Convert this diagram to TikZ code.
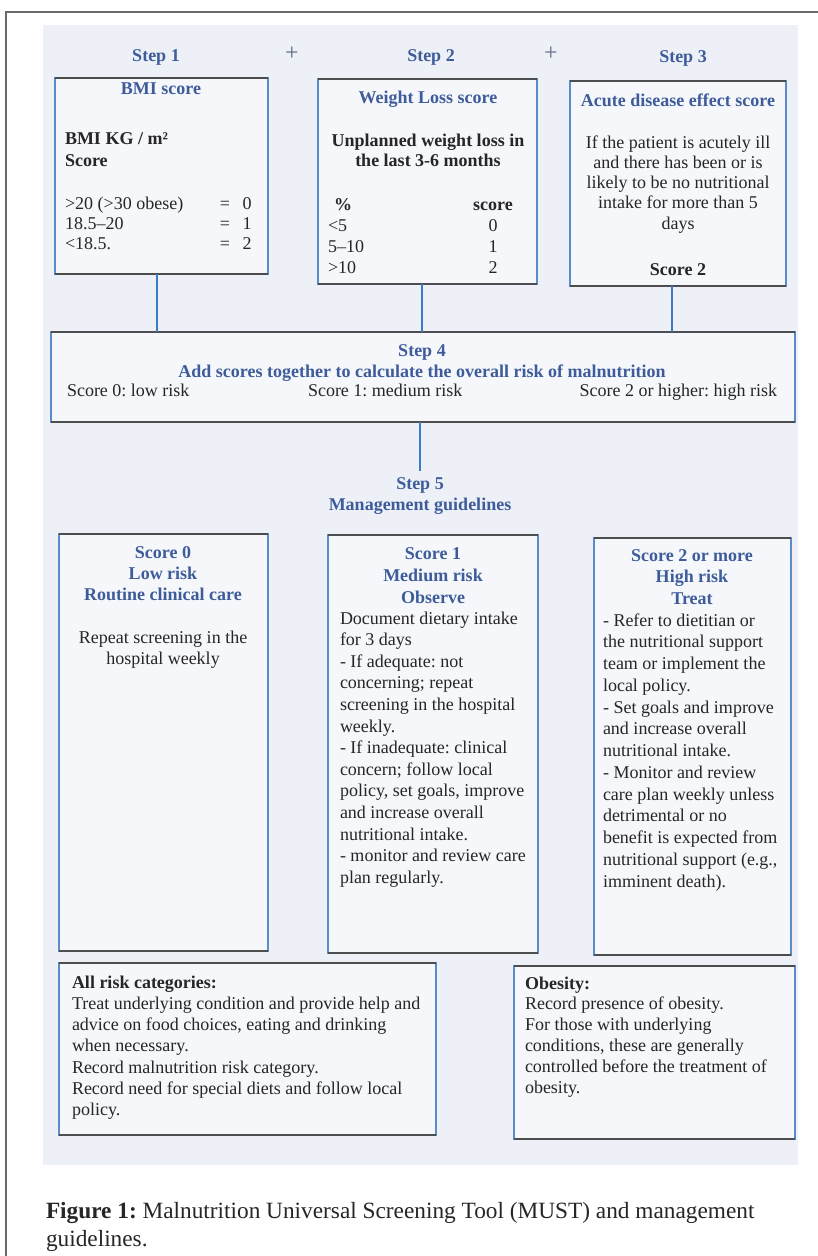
\documentclass[tikz,border=0pt]{standalone}
\usepackage{fontspec}
\setmainfont{Liberation Serif}
\frenchspacing
\definecolor{panelbg}{HTML}{EDF1F7}
\definecolor{hblue}{HTML}{3E5C9A}
\definecolor{lineblue}{HTML}{3C7BC8}
\definecolor{sideblue}{HTML}{5B8CC8}
\definecolor{edgegray}{HTML}{4D4D4D}
\definecolor{txt}{HTML}{262626}
\definecolor{framegray}{HTML}{6A6A6A}
\definecolor{plusgray}{HTML}{5F6C84}
\newcommand{\fl}{\rule{0pt}{13pt}}
\begin{document}
\begin{tikzpicture}[x=1pt,y=-1pt,
  every node/.style={inner sep=0pt,outer sep=0pt},
  box/.style={draw=sideblue,line width=1.1pt,fill=panelbg!55!white,anchor=north west},
  topbot/.style={draw=edgegray,line width=1.2pt},
  conn/.style={draw=lineblue,line width=1.6pt},
  ttl/.style={font=\fontsize{18}{21}\selectfont\bfseries,text=hblue,align=center},
  bd/.style={font=\fontsize{18}{21.5}\selectfont,text=txt},
  bdb/.style={font=\fontsize{18}{22}\selectfont\bfseries,text=txt},
  plussign/.style={font=\fontsize{24}{24}\selectfont,text=plusgray,anchor=center}
]
\useasboundingbox (0,0) rectangle (818,1256);
\fill[white] (0,0) rectangle (818,1256);
\draw[framegray,line width=1.2pt] (6,1256) -- (6,12) -- (818,12);
\fill[panelbg] (43,25) rectangle (798,1165);

% step headers
\node[ttl,anchor=base] (h1) at (156,61) {Step 1};
\node[plussign] (p1) at (292,54) {+};
\node[ttl,anchor=base] (h2) at (431,61) {Step 2};
\node[plussign] (p2) at (551,54) {+};
\node[ttl,anchor=base] (h3) at (683,62) {Step 3};

% boxes
\node[box,minimum width=213pt,minimum height=196pt] (b1) at (55,78) {};
\node[box,minimum width=219pt,minimum height=205pt] (b2) at (318,79) {};
\node[box,minimum width=216pt,minimum height=205pt] (b3) at (570,81) {};
\node[box,minimum width=744pt,minimum height=90pt] (b4) at (51,332) {};
\node[box,minimum width=209pt,minimum height=417pt] (s0) at (59,534) {};
\node[box,minimum width=210pt,minimum height=418pt] (s1) at (328,535) {};
\node[box,minimum width=197pt,minimum height=417pt] (s2) at (594,538) {};
\node[box,minimum width=377pt,minimum height=172pt] (all) at (59,963) {};
\node[box,minimum width=281pt,minimum height=173pt] (ob) at (514,966) {};
\foreach \b in {b1,b2,b3,b4,s0,s1,s2,all,ob}
  \draw[topbot] (\b.north west) -- (\b.north east) (\b.south west) -- (\b.south east);

% box 1
\node[ttl,anchor=base] (t1) at (161,94) {BMI score};
\node[bdb,anchor=north west,align=left] (bmiunit) at (65,131) {\fl BMI KG / m²\\Score};
\node[bd,font=\fontsize{18}{20}\selectfont,anchor=north west,align=left] (bmirange) at (65,196) {\fl >20 (>30 obese)\\18.5–20\\<18.5.};
\node[bd,font=\fontsize{18}{20}\selectfont,anchor=north,align=center] (bmieq) at (225,196) {\fl =\\=\\=};
\node[bd,font=\fontsize{18}{20}\selectfont,anchor=north,align=center] (bmisc) at (247,196) {\fl 0\\1\\2};

% box 2
\node[ttl,anchor=base] (t2) at (428,103) {Weight Loss score};
\node[bdb,font=\fontsize{18}{20}\selectfont\bfseries,anchor=north,align=center] (wlq) at (428,133) {\fl Unplanned weight loss in\\the last 3-6 months};
\node[bdb,anchor=base] (wlpc) at (343,210) {\%};
\node[bdb,anchor=base] (wlsc) at (493,210) {score};
\node[bd,font=\fontsize{18}{21}\selectfont,anchor=north west,align=left] (wlr) at (328,218) {\fl <5\\5–10\\>10};
\node[bd,font=\fontsize{18}{21}\selectfont,anchor=north,align=center] (wln) at (493,218) {\fl 0\\1\\2};

% box 3
\node[ttl,anchor=base] (t3) at (678,106) {Acute disease effect score};
\node[bd,font=\fontsize{18}{20.3}\selectfont,anchor=north,align=center] (acb) at (678,135) {\fl If the patient is acutely ill\\and there has been or is\\likely to be no nutritional\\intake for more than 5\\days};
\node[bdb,anchor=base] (acs) at (678,275) {Score 2};

% connectors to step 4
\coordinate (k1) at (157,0);
\coordinate (k2) at (422,0);
\coordinate (k3) at (672,0);
\draw[conn] (b1.south -| k1) -- (b4.north -| k1);
\draw[conn] (b2.south -| k2) -- (b4.north -| k2);
\draw[conn] (b3.south -| k3) -- (b4.north -| k3);

% step 4
\node[ttl,anchor=north] (st4) at (422,343) {\fl Step 4\\Add scores together to calculate the overall risk of malnutrition};
\node[bd,anchor=base west] (r0) at (67,396) {Score 0: low risk};
\node[bd,anchor=base west] (r1) at (308,396) {Score 1: medium risk};
\node[bd,anchor=base east] (r2) at (777,396) {Score 2 or higher: high risk};

% step 5
\node[ttl,anchor=north] (st5) at (420,476) {\fl Step 5\\Management guidelines};
\draw[conn] (b4.south -| st5.north) -- ([yshift=5pt]st5.north);

% score 0
\node[ttl,anchor=north] (s0t) at (163,545) {\fl Score 0\\Low risk\\Routine clinical care};
\node[bd,anchor=north,align=center] (s0b) at (163,630) {\fl Repeat screening in the\\hospital weekly};

% score 1
\node[ttl,font=\fontsize{18}{22}\selectfont\bfseries,anchor=north] (s1t) at (433,546) {\fl Score 1\\Medium risk\\Observe};
\node[bd,font=\fontsize{18}{21.6}\selectfont,anchor=north west,align=left] (s1b) at (340,611) {\fl Document dietary intake\\for 3 days\\- If adequate: not\\concerning; repeat\\screening in the hospital\\weekly.\\- If inadequate: clinical\\concern; follow local\\policy, set goals, improve\\and increase overall\\nutritional intake.\\- monitor and review care\\plan regularly.};

% score 2
\node[ttl,font=\fontsize{18}{21.5}\selectfont\bfseries,anchor=north] (s2t) at (692,548) {\fl Score 2 or more\\High risk\\Treat};
\node[bd,font=\fontsize{18}{21.75}\selectfont,anchor=north west,align=left] (s2b) at (603,613) {\fl - Refer to dietitian or\\the nutritional support\\team or implement the\\local policy.\\- Set goals and improve\\and increase overall\\nutritional intake.\\- Monitor and review\\care plan weekly unless\\detrimental or no\\benefit is expected from\\nutritional support (e.g.,\\imminent death).};

% all risk categories
\node[bd,font=\fontsize{18}{21.3}\selectfont,anchor=north west,align=left] (allt) at (72,975) {\fl\textbf{All risk categories:}\\Treat underlying condition and provide help and\\advice on food choices, eating and drinking\\when necessary.\\Record malnutrition risk category.\\Record need for special diets and follow local\\policy.};

% obesity
\node[bd,font=\fontsize{18}{20.8}\selectfont,anchor=north west,align=left] (obt) at (525,976) {\fl\textbf{Obesity:}\\Record presence of obesity.\\For those with underlying\\conditions, these are generally\\controlled before the treatment of\\obesity.};

% caption
\node[font=\fontsize{23.3}{28}\selectfont,text=black!85,anchor=north west,align=left] (cap) at (46,1202) {\rule{0pt}{16pt}\textbf{Figure 1:} Malnutrition Universal Screening Tool (MUST) and management\\guidelines.};
\end{tikzpicture}
\end{document}
